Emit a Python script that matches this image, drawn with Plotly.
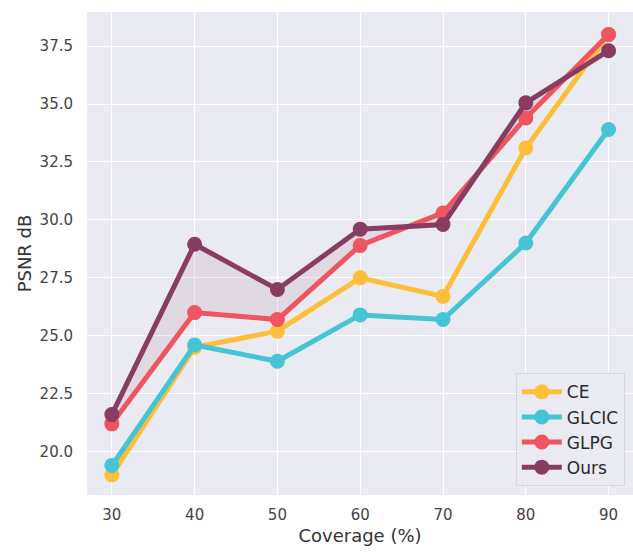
import plotly.graph_objects as go

coverage = [30, 40, 50, 60, 70, 80, 90]
ce = [19.0, 24.5, 25.2, 27.5, 26.7, 33.1, 38.0]
glcic = [19.4, 24.6, 23.9, 25.9, 25.7, 29.0, 33.9]
glpg = [21.2, 26.0, 25.7, 28.9, 30.3, 34.4, 38.0]
ours = [21.6, 28.95, 27.0, 29.6, 29.8, 35.05, 37.3]

series = [
    ("CE", ce, "#FDBE3A"),
    ("GLCIC", glcic, "#45C4D4"),
    ("GLPG", glpg, "#EF5461"),
    ("Ours", ours, "#893C62"),
]

fig = go.Figure()
# shaded region between GLPG and Ours
fig.add_trace(go.Scatter(x=coverage, y=glpg, mode="lines", line=dict(width=0),
                         showlegend=False, hoverinfo="skip"))
fig.add_trace(go.Scatter(x=coverage, y=ours, mode="lines", line=dict(width=0),
                         fill="tonexty", fillcolor="rgba(137,60,98,0.10)",
                         showlegend=False, hoverinfo="skip"))

for name, vals, color in series:
    fig.add_trace(go.Scatter(
        x=coverage, y=vals, mode="lines+markers", name=name,
        line=dict(color=color, width=5),
        marker=dict(color=color, size=15),
    ))

fig.update_layout(
    width=633, height=552,
    margin=dict(l=87, r=0, t=12, b=57),
    paper_bgcolor="white",
    plot_bgcolor="#EAEAF2",
    font=dict(family="DejaVu Sans", color="#333333"),
    legend=dict(
        x=0.985, y=0.018, xanchor="right", yanchor="bottom",
        traceorder="normal",
        bgcolor="rgba(234,234,242,0.9)", bordercolor="#D6D6DE", borderwidth=1,
        font=dict(size=17, color="#2A2A2A"),
        itemwidth=40,
    ),
    xaxis=dict(
        range=[27, 92.95], tickvals=coverage, ticktext=[str(c) for c in coverage],
        showgrid=True, gridcolor="white", gridwidth=1.3, zeroline=False,
        showline=False, tickfont=dict(size=15, color="#444444"),
        ticks="outside", ticklen=6, tickcolor="rgba(0,0,0,0)",
        title=dict(text="Coverage (%)", font=dict(size=18, color="#333333"), standoff=6),
    ),
    yaxis=dict(
        range=[18.13, 38.97], tickvals=[20.0, 22.5, 25.0, 27.5, 30.0, 32.5, 35.0, 37.5],
        ticktext=["20.0", "22.5", "25.0", "27.5", "30.0", "32.5", "35.0", "37.5"],
        showgrid=True, gridcolor="white", gridwidth=1.3, zeroline=False,
        showline=False, tickfont=dict(size=15, color="#444444"),
        ticks="outside", ticklen=10, tickcolor="rgba(0,0,0,0)",
        title=dict(text="PSNR dB", font=dict(size=18, color="#333333"), standoff=3),
    ),
)

fig.write_html("out.html")
